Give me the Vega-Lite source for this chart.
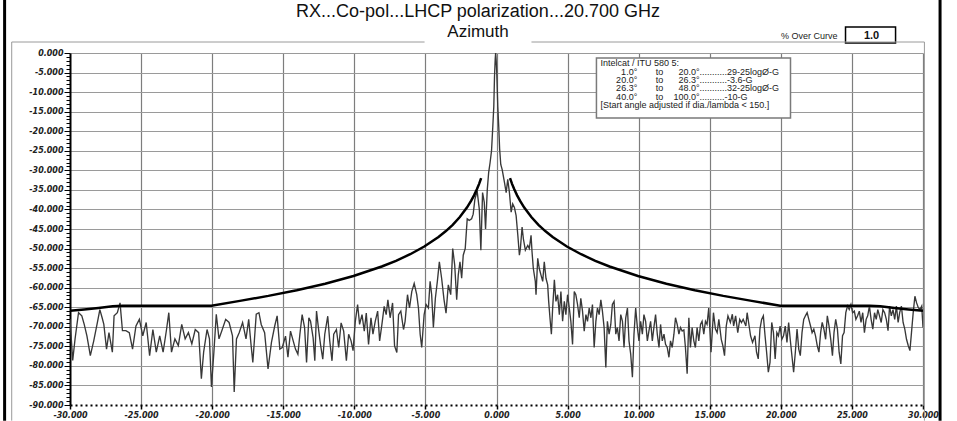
{
"$schema": "https://vega.github.io/schema/vega-lite/v6.json",
"width": 853, "height": 352,
"autosize": {"type": "none"},
"padding": {"left": 70, "top": 53, "right": 34, "bottom": 16},
"background": "white",
"config": {"view": {"stroke": null}, "font": "Liberation Sans"},
"datasets": {
"pattern": [
{"az":-30.0,"gain":-68.0},{"az":-29.81,"gain":-78.6},{"az":-29.64,"gain":-73.0},{"az":-29.4,"gain":-66.4},{"az":-29.17,"gain":-67.2},{"az":-29.0,"gain":-69.4},{"az":-28.81,"gain":-72.3},{"az":-28.57,"gain":-77.4},{"az":-28.33,"gain":-73.6},{"az":-28.1,"gain":-69.4},{"az":-27.9,"gain":-65.6},{"az":-27.74,"gain":-67.7},{"az":-27.62,"gain":-69.4},{"az":-27.43,"gain":-75.7},{"az":-27.26,"gain":-71.5},{"az":-27.02,"gain":-76.5},{"az":-26.9,"gain":-67.2},{"az":-26.67,"gain":-66.4},{"az":-26.48,"gain":-63.9},{"az":-26.31,"gain":-71.0},{"az":-26.07,"gain":-71.0},{"az":-25.83,"gain":-71.5},{"az":-25.6,"gain":-75.7},{"az":-25.36,"gain":-69.8},{"az":-25.12,"gain":-68.1},{"az":-24.88,"gain":-72.3},{"az":-24.64,"gain":-68.9},{"az":-24.4,"gain":-77.4},{"az":-24.17,"gain":-70.7},{"az":-23.93,"gain":-76.5},{"az":-23.69,"gain":-72.3},{"az":-23.45,"gain":-76.5},{"az":-23.21,"gain":-70.7},{"az":-23.05,"gain":-66.4},{"az":-22.86,"gain":-76.5},{"az":-22.62,"gain":-73.1},{"az":-22.38,"gain":-74.8},{"az":-22.14,"gain":-69.4},{"az":-21.9,"gain":-73.1},{"az":-21.67,"gain":-71.5},{"az":-21.43,"gain":-74.4},{"az":-21.19,"gain":-70.7},{"az":-20.95,"gain":-71.5},{"az":-20.76,"gain":-83.3},{"az":-20.6,"gain":-76.5},{"az":-20.36,"gain":-70.7},{"az":-20.19,"gain":-73.1},{"az":-20.05,"gain":-85.4},{"az":-19.88,"gain":-76.5},{"az":-19.71,"gain":-66.8},{"az":-19.52,"gain":-73.1},{"az":-19.29,"gain":-70.7},{"az":-19.05,"gain":-68.1},{"az":-18.81,"gain":-68.9},{"az":-18.57,"gain":-72.3},{"az":-18.45,"gain":-86.7},{"az":-18.29,"gain":-73.1},{"az":-18.1,"gain":-71.5},{"az":-17.86,"gain":-68.9},{"az":-17.62,"gain":-73.1},{"az":-17.43,"gain":-68.1},{"az":-17.26,"gain":-74.8},{"az":-17.14,"gain":-79.1},{"az":-16.9,"gain":-66.8},{"az":-16.71,"gain":-66.4},{"az":-16.55,"gain":-69.4},{"az":-16.31,"gain":-71.5},{"az":-16.07,"gain":-80.8},{"az":-15.83,"gain":-74.0},{"az":-15.6,"gain":-69.8},{"az":-15.43,"gain":-67.2},{"az":-15.24,"gain":-75.7},
{"az":-15.07,"gain":-75.3},{"az":-14.84,"gain":-72.4},{"az":-14.67,"gain":-77.8},{"az":-14.49,"gain":-71.1},{"az":-14.3,"gain":-73.6},{"az":-14.14,"gain":-75.7},{"az":-13.97,"gain":-77.0},{"az":-13.83,"gain":-71.9},{"az":-13.67,"gain":-66.9},{"az":-13.5,"gain":-70.2},{"az":-13.36,"gain":-79.1},{"az":-13.2,"gain":-67.7},{"az":-13.08,"gain":-68.6},{"az":-12.9,"gain":-72.8},{"az":-12.78,"gain":-78.7},{"az":-12.66,"gain":-66.0},{"az":-12.5,"gain":-71.1},{"az":-12.38,"gain":-74.5},{"az":-12.22,"gain":-78.3},{"az":-12.08,"gain":-71.9},{"az":-11.87,"gain":-67.3},{"az":-11.73,"gain":-73.6},{"az":-11.57,"gain":-78.7},{"az":-11.45,"gain":-71.9},{"az":-11.26,"gain":-70.7},{"az":-11.1,"gain":-75.3},{"az":-10.93,"gain":-69.0},{"az":-10.75,"gain":-71.1},{"az":-10.56,"gain":-78.7},{"az":-10.4,"gain":-71.9},{"az":-10.23,"gain":-73.6},{"az":-10.09,"gain":-76.1},{"az":-9.93,"gain":-68.6},{"az":-9.77,"gain":-64.3},{"az":-9.63,"gain":-69.4},{"az":-9.46,"gain":-66.9},{"az":-9.3,"gain":-71.1},{"az":-9.16,"gain":-66.5},{"az":-9.0,"gain":-74.5},{"az":-8.83,"gain":-67.7},{"az":-8.69,"gain":-71.9},{"az":-8.53,"gain":-68.6},{"az":-8.36,"gain":-66.0},{"az":-8.22,"gain":-73.6},{"az":-8.06,"gain":-69.4},{"az":-7.9,"gain":-64.8},{"az":-7.76,"gain":-66.9},{"az":-7.64,"gain":-63.1},{"az":-7.48,"gain":-67.7},{"az":-7.31,"gain":-63.9},{"az":-7.17,"gain":-74.9},{"az":-7.01,"gain":-76.6},{"az":-6.89,"gain":-66.9},{"az":-6.73,"gain":-66.0},{"az":-6.54,"gain":-70.7},{"az":-6.43,"gain":-68.6},{"az":-6.26,"gain":-61.8},{"az":-6.12,"gain":-65.2},{"az":-5.96,"gain":-61.0},{"az":-5.79,"gain":-58.9},{"az":-5.61,"gain":-61.8},{"az":-5.49,"gain":-65.2},{"az":-5.37,"gain":-71.9},{"az":-5.26,"gain":-75.3},{"az":-5.09,"gain":-66.9},{"az":-4.95,"gain":-64.3},{"az":-4.79,"gain":-65.2},{"az":-4.67,"gain":-58.4},{"az":-4.56,"gain":-61.8},{"az":-4.44,"gain":-70.2},{"az":-4.3,"gain":-62.7},{"az":-4.16,"gain":-58.4},{"az":-4.02,"gain":-53.4},{"az":-3.86,"gain":-57.6},{"az":-3.69,"gain":-63.1},{"az":-3.55,"gain":-66.5},{"az":-3.39,"gain":-59.3},{"az":-3.22,"gain":-61.8},{"az":-3.08,"gain":-50.0},{"az":-2.94,"gain":-54.2},{"az":-2.8,"gain":-63.1},{"az":-2.69,"gain":-56.8},{"az":-2.57,"gain":-53.4},{"az":-2.45,"gain":-57.6},{"az":-2.34,"gain":-51.7},{"az":-2.2,"gain":-50.0},{"az":-2.06,"gain":-42.4},{"az":-1.92,"gain":-42.8},{"az":-1.75,"gain":-42.4},{"az":-1.64,"gain":-41.2},{"az":-1.52,"gain":-37.4},{"az":-1.36,"gain":-35.3},{"az":-1.21,"gain":-39.9},{"az":-1.1,"gain":-50.4},{"az":-0.98,"gain":-35.7},{"az":-0.86,"gain":-38.2},{"az":-0.77,"gain":-45.0},{"az":-0.65,"gain":-35.0},{"az":-0.55,"gain":-30.5},{"az":-0.45,"gain":-28.0},{"az":-0.35,"gain":-25.0},{"az":-0.26,"gain":-18.8},{"az":-0.19,"gain":-13.7},{"az":-0.14,"gain":-6.0},{"az":-0.09,"gain":-1.5},{"az":-0.06,"gain":0.0},{"az":-0.02,"gain":-2.0},{"az":0.02,"gain":-5.2},{"az":0.09,"gain":-13.7},{"az":0.16,"gain":-19.0},{"az":0.22,"gain":-24.5},{"az":0.3,"gain":-28.5},
{"az":0.4,"gain":-29.8},{"az":0.56,"gain":-33.1},{"az":0.68,"gain":-35.7},{"az":0.79,"gain":-32.3},{"az":0.91,"gain":-35.7},{"az":1.03,"gain":-40.7},{"az":1.14,"gain":-38.6},{"az":1.26,"gain":-39.5},{"az":1.38,"gain":-41.6},{"az":1.5,"gain":-46.6},{"az":1.61,"gain":-51.7},{"az":1.68,"gain":-50.0},{"az":1.8,"gain":-44.5},{"az":1.89,"gain":-47.5},{"az":2.03,"gain":-50.4},{"az":2.2,"gain":-49.2},{"az":2.31,"gain":-50.0},{"az":2.43,"gain":-46.6},{"az":2.5,"gain":-50.9},{"az":2.59,"gain":-55.1},{"az":2.73,"gain":-58.4},{"az":2.78,"gain":-61.8},{"az":2.9,"gain":-52.5},{"az":3.01,"gain":-55.1},{"az":3.13,"gain":-56.8},{"az":3.25,"gain":-58.4},{"az":3.36,"gain":-53.4},{"az":3.48,"gain":-57.6},{"az":3.6,"gain":-59.3},{"az":3.67,"gain":-63.5},{"az":3.76,"gain":-67.7},{"az":3.86,"gain":-71.9},{"az":3.95,"gain":-65.2},{"az":4.07,"gain":-58.0},{"az":4.18,"gain":-63.5},{"az":4.3,"gain":-61.8},{"az":4.42,"gain":-66.9},{"az":4.53,"gain":-61.0},{"az":4.65,"gain":-68.6},{"az":4.77,"gain":-63.5},{"az":4.88,"gain":-66.9},{"az":5.0,"gain":-61.8},{"az":5.12,"gain":-65.2},{"az":5.23,"gain":-68.6},{"az":5.35,"gain":-74.5},{"az":5.47,"gain":-61.0},{"az":5.58,"gain":-61.8},{"az":5.7,"gain":-64.3},{"az":5.82,"gain":-67.7},{"az":5.93,"gain":-62.7},{"az":6.05,"gain":-66.0},{"az":6.17,"gain":-71.1},{"az":6.29,"gain":-66.9},{"az":6.4,"gain":-68.6},{"az":6.52,"gain":-65.2},{"az":6.64,"gain":-67.7},{"az":6.75,"gain":-64.3},{"az":6.87,"gain":-75.3},{"az":6.99,"gain":-68.6},{"az":7.1,"gain":-65.2},{"az":7.22,"gain":-66.9},{"az":7.34,"gain":-63.1},{"az":7.45,"gain":-66.0},{"az":7.57,"gain":-70.2},{"az":7.69,"gain":-80.4},{"az":7.8,"gain":-68.6},{"az":7.92,"gain":-71.9},{"az":8.04,"gain":-69.4},{"az":8.15,"gain":-64.3},{"az":8.27,"gain":-63.5},{"az":8.39,"gain":-71.9},{"az":8.5,"gain":-70.2},{"az":8.62,"gain":-73.6},{"az":8.74,"gain":-66.9},{"az":8.86,"gain":-68.6},{"az":8.97,"gain":-75.3},{"az":9.09,"gain":-67.7},{"az":9.21,"gain":-65.2},{"az":9.32,"gain":-73.6},{"az":9.44,"gain":-77.0},{"az":9.56,"gain":-82.9},{"az":9.67,"gain":-71.9},{"az":9.79,"gain":-65.2},{"az":9.91,"gain":-70.2},{"az":10.02,"gain":-73.6},{"az":10.14,"gain":-68.6},{"az":10.26,"gain":-71.9},{"az":10.37,"gain":-66.9},{"az":10.49,"gain":-68.6},{"az":10.61,"gain":-73.6},{"az":10.72,"gain":-71.1},{"az":10.84,"gain":-68.6},{"az":10.96,"gain":-73.6},{"az":11.07,"gain":-70.2},{"az":11.19,"gain":-66.9},{"az":11.31,"gain":-71.9},{"az":11.43,"gain":-75.3},{"az":11.54,"gain":-69.4},{"az":11.66,"gain":-73.6},{"az":11.78,"gain":-71.9},{"az":11.89,"gain":-74.5},{"az":12.01,"gain":-75.3},{"az":12.13,"gain":-77.8},{"az":12.24,"gain":-73.6},{"az":12.36,"gain":-75.3},{"az":12.48,"gain":-71.9},{"az":12.59,"gain":-67.7},{"az":12.71,"gain":-69.4},{"az":12.83,"gain":-71.9},{"az":12.94,"gain":-70.2},{"az":13.06,"gain":-71.1},{"az":13.18,"gain":-70.8},{"az":13.29,"gain":-75.3},{"az":13.41,"gain":-82.0},{"az":13.53,"gain":-67.7},{"az":13.64,"gain":-75.3},{"az":13.76,"gain":-70.2},{"az":13.88,"gain":-73.6},{"az":13.99,"gain":-75.3},{"az":14.11,"gain":-70.2},{"az":14.23,"gain":-73.6},{"az":14.35,"gain":-69.4},{"az":14.46,"gain":-68.6},{"az":14.58,"gain":-71.9},{"az":14.7,"gain":-68.6},{"az":14.81,"gain":-69.4},{"az":14.93,"gain":-65.2},
{"az":15.09,"gain":-76.5},{"az":15.26,"gain":-66.4},{"az":15.4,"gain":-70.6},{"az":15.52,"gain":-71.5},{"az":15.64,"gain":-68.1},{"az":15.81,"gain":-73.2},{"az":15.92,"gain":-74.8},{"az":16.04,"gain":-77.4},{"az":16.16,"gain":-69.8},{"az":16.28,"gain":-67.2},{"az":16.45,"gain":-68.9},{"az":16.59,"gain":-66.8},{"az":16.68,"gain":-69.8},{"az":16.82,"gain":-67.2},{"az":16.97,"gain":-71.5},{"az":17.11,"gain":-68.1},{"az":17.23,"gain":-68.9},{"az":17.35,"gain":-68.1},{"az":17.54,"gain":-69.8},{"az":17.63,"gain":-66.4},{"az":17.77,"gain":-69.8},{"az":17.87,"gain":-72.3},{"az":18.01,"gain":-74.0},{"az":18.18,"gain":-72.3},{"az":18.29,"gain":-76.5},{"az":18.41,"gain":-78.2},{"az":18.53,"gain":-70.6},{"az":18.65,"gain":-68.1},{"az":18.77,"gain":-67.2},{"az":18.89,"gain":-72.3},{"az":19.0,"gain":-76.5},{"az":19.12,"gain":-81.6},{"az":19.24,"gain":-79.1},{"az":19.36,"gain":-68.9},{"az":19.48,"gain":-71.5},{"az":19.6,"gain":-78.2},{"az":19.72,"gain":-71.5},{"az":19.83,"gain":-72.3},{"az":19.95,"gain":-69.8},{"az":20.07,"gain":-73.2},{"az":20.19,"gain":-72.3},{"az":20.31,"gain":-69.8},{"az":20.43,"gain":-74.0},{"az":20.55,"gain":-68.9},{"az":20.66,"gain":-73.2},{"az":20.78,"gain":-77.4},{"az":20.9,"gain":-81.6},{"az":21.02,"gain":-76.5},{"az":21.14,"gain":-70.6},{"az":21.26,"gain":-75.7},{"az":21.37,"gain":-77.4},{"az":21.49,"gain":-71.5},{"az":21.61,"gain":-68.1},{"az":21.73,"gain":-67.2},{"az":21.85,"gain":-66.4},{"az":21.97,"gain":-68.1},{"az":22.09,"gain":-69.8},{"az":22.2,"gain":-71.5},{"az":22.32,"gain":-70.6},{"az":22.44,"gain":-72.3},{"az":22.56,"gain":-74.8},{"az":22.68,"gain":-76.5},{"az":22.8,"gain":-71.5},{"az":22.91,"gain":-68.9},{"az":23.03,"gain":-70.6},{"az":23.15,"gain":-73.2},{"az":23.27,"gain":-67.2},{"az":23.39,"gain":-69.8},{"az":23.51,"gain":-73.2},{"az":23.63,"gain":-77.4},{"az":23.74,"gain":-71.5},{"az":23.86,"gain":-68.1},{"az":23.98,"gain":-70.6},{"az":24.1,"gain":-76.5},{"az":24.22,"gain":-79.5},{"az":24.34,"gain":-72.3},{"az":24.45,"gain":-71.5},{"az":24.57,"gain":-66.4},{"az":24.69,"gain":-64.7},{"az":24.81,"gain":-65.6},{"az":24.93,"gain":-64.3},{"az":25.05,"gain":-66.4},{"az":25.17,"gain":-66.0},{"az":25.28,"gain":-68.1},{"az":25.4,"gain":-67.2},{"az":25.52,"gain":-66.0},{"az":25.64,"gain":-68.9},{"az":25.76,"gain":-66.4},{"az":25.88,"gain":-71.5},{"az":26.0,"gain":-68.1},{"az":26.11,"gain":-67.2},{"az":26.23,"gain":-64.7},{"az":26.35,"gain":-68.1},{"az":26.47,"gain":-70.6},{"az":26.59,"gain":-66.4},{"az":26.71,"gain":-68.1},{"az":26.82,"gain":-65.6},{"az":26.94,"gain":-67.2},{"az":27.06,"gain":-68.9},{"az":27.18,"gain":-65.6},{"az":27.3,"gain":-66.4},{"az":27.42,"gain":-68.1},{"az":27.54,"gain":-71.0},{"az":27.65,"gain":-64.7},{"az":27.77,"gain":-67.2},{"az":27.89,"gain":-65.6},{"az":28.01,"gain":-68.1},{"az":28.13,"gain":-64.7},{"az":28.25,"gain":-68.9},{"az":28.36,"gain":-66.4},{"az":28.48,"gain":-64.7},{"az":28.6,"gain":-68.9},{"az":28.72,"gain":-70.6},{"az":28.84,"gain":-73.2},{"az":28.96,"gain":-74.8},{"az":29.08,"gain":-76.1},{"az":29.19,"gain":-71.5},{"az":29.31,"gain":-66.4},{"az":29.43,"gain":-62.2},{"az":29.55,"gain":-63.9},{"az":29.67,"gain":-65.1},{"az":29.79,"gain":-65.6},{"az":29.91,"gain":-64.7},{"az":30.0,"gain":-70.2}
],
"envelope": [
{"side":"L","az":-30.0,"gain":-65.93},{"side":"L","az":-29.0,"gain":-65.56},{"side":"L","az":-28.0,"gain":-65.18},{"side":"L","az":-27.0,"gain":-64.78},{"side":"L","az":-26.3,"gain":-64.6},{"side":"L","az":-20.05,"gain":-64.6},{"side":"L","az":-18.05,"gain":-63.38},{"side":"L","az":-16.05,"gain":-62.1},{"side":"L","az":-14.05,"gain":-60.65},{"side":"L","az":-12.05,"gain":-58.98},{"side":"L","az":-10.06,"gain":-57.0},{"side":"L","az":-8.07,"gain":-54.58},{"side":"L","az":-7.07,"gain":-53.13},{"side":"L","az":-6.07,"gain":-51.45},{"side":"L","az":-5.08,"gain":-49.47},{"side":"L","az":-4.08,"gain":-47.05},{"side":"L","az":-3.58,"gain":-45.6},{"side":"L","az":-3.08,"gain":-43.93},{"side":"L","az":-2.58,"gain":-41.95},{"side":"L","az":-2.08,"gain":-39.53},{"side":"L","az":-1.78,"gain":-37.76},{"side":"L","az":-1.58,"gain":-36.4},{"side":"L","az":-1.38,"gain":-34.85},{"side":"L","az":-1.23,"gain":-33.52},{"side":"L","az":-1.08,"gain":-32.0},
{"side":"R","az":0.95,"gain":-32.0},{"side":"R","az":1.1,"gain":-33.52},{"side":"R","az":1.25,"gain":-34.85},{"side":"R","az":1.45,"gain":-36.4},{"side":"R","az":1.65,"gain":-37.76},{"side":"R","az":1.95,"gain":-39.53},{"side":"R","az":2.45,"gain":-41.95},{"side":"R","az":2.95,"gain":-43.93},{"side":"R","az":3.45,"gain":-45.6},{"side":"R","az":3.95,"gain":-47.05},{"side":"R","az":4.95,"gain":-49.47},{"side":"R","az":5.95,"gain":-51.45},{"side":"R","az":6.95,"gain":-53.13},{"side":"R","az":7.95,"gain":-54.58},{"side":"R","az":9.95,"gain":-57.0},{"side":"R","az":11.95,"gain":-58.98},{"side":"R","az":13.95,"gain":-60.65},{"side":"R","az":15.95,"gain":-62.1},{"side":"R","az":17.95,"gain":-63.38},{"side":"R","az":19.95,"gain":-64.6},{"side":"R","az":26.25,"gain":-64.6},{"side":"R","az":27.0,"gain":-64.78},{"side":"R","az":28.0,"gain":-65.18},{"side":"R","az":29.0,"gain":-65.56},{"side":"R","az":30.0,"gain":-65.93}
]
},
"layer": [
{"data": {"name": "pattern"},
 "mark": {"type": "line", "color": "#383838", "strokeWidth": 1.35, "clip": true},
 "encoding": {
  "x": {"field": "az", "type": "quantitative", "scale": {"domain": [-30, 30], "nice": false, "zero": false},
   "axis": {"title": null, "values": [-30,-25,-20,-15,-10,-5,0,5,10,15,20,25,30], "tickCount": 100,
    "labelExpr": "replace(format(datum.value, '.3f'), '\u2212', '-')",
    "labelFont": "DejaVu Sans", "labelFontSize": 8, "labelFontStyle": "italic", "labelFontWeight": "bold", "labelColor": "#222", "labelPadding": 2, "labelOverlap": false, "labelBound": false, "labelFlush": false,
    "domain": true, "domainColor": "black", "domainWidth": 2, "domainDash": [2, 3],
    "ticks": true, "tickColor": "black", "tickWidth": 1.5, "tickSize": 4,
    "grid": true, "gridColor": "#7d7d7d", "gridWidth": 1.2,
    "gridOpacity": {"condition": {"test": "datum.value > -30", "value": 1}, "value": 0}}},
  "y": {"field": "gain", "type": "quantitative", "scale": {"domain": [-90, 0], "nice": false, "zero": false},
   "axis": {"title": null, "tickCount": 200, "values": [-90,-89,-88,-87,-86,-85,-84,-83,-82,-81,-80,-79,-78,-77,-76,-75,-74,-73,-72,-71,-70,-69,-68,-67,-66,-65,-64,-63,-62,-61,-60,-59,-58,-57,-56,-55,-54,-53,-52,-51,-50,-49,-48,-47,-46,-45,-44,-43,-42,-41,-40,-39,-38,-37,-36,-35,-34,-33,-32,-31,-30,-29,-28,-27,-26,-25,-24,-23,-22,-21,-20,-19,-18,-17,-16,-15,-14,-13,-12,-11,-10,-9,-8,-7,-6,-5,-4,-3,-2,-1,0],
    "labelExpr": "datum.value % 5 === 0 ? replace(format(datum.value, '.3f'), '\u2212', '-') : ''",
    "labelFont": "DejaVu Sans", "labelFontSize": 8, "labelFontStyle": "italic", "labelFontWeight": "bold", "labelColor": "#222", "labelPadding": 1, "labelOverlap": false, "labelBound": false, "labelFlush": false,
    "domain": true, "domainColor": "black", "domainWidth": 2,
    "ticks": true, "tickColor": "black", "tickWidth": 1,
    "tickSize": {"condition": {"test": "datum.value % 5 === 0", "value": 6}, "value": 4},
    "grid": true, "gridColor": "#9a9a9a", "gridWidth": 1,
    "gridOpacity": {"condition": {"test": "datum.value % 5 === 0 && datum.value > -90", "value": 1}, "value": 0}}}
 }},
{"data": {"name": "envelope"},
 "mark": {"type": "line", "color": "black", "strokeWidth": 2.5},
 "encoding": {"x": {"field": "az", "type": "quantitative", "title": null}, "y": {"field": "gain", "type": "quantitative", "title": null}, "detail": {"field": "side"}}},
{"data": {"values": [{}]},
 "mark": {"type": "rect", "fill": "white", "stroke": "#7a7a7a", "strokeWidth": 1.5},
 "encoding": {"x": {"datum": 7.03, "type": "quantitative"}, "x2": {"datum": 20.68}, "y": {"datum": -1.28, "type": "quantitative"}, "y2": {"datum": -16.6}}},
{"data": {"values": [{}]},
 "mark": {"type": "text", "align": "left", "baseline": "middle", "fontSize": 9, "color": "#222", "text": "Intelcat / ITU 580 5:"},
 "encoding": {"x": {"datum": 7.31, "type": "quantitative"}, "y": {"datum": -2.6, "type": "quantitative"}}},
{"data": {"values": [{}]},
 "mark": {"type": "text", "align": "right", "baseline": "top", "fontSize": 9, "lineHeight": 8.4, "color": "#222", "text": ["1.0°", "20.0°", "26.3°", "40.0°"]},
 "encoding": {"x": {"datum": 9.9, "type": "quantitative"}, "y": {"datum": -3.75, "type": "quantitative"}}},
{"data": {"values": [{}]},
 "mark": {"type": "text", "align": "center", "baseline": "top", "fontSize": 9, "lineHeight": 8.4, "color": "#222", "text": ["to", "to", "to", "to"]},
 "encoding": {"x": {"datum": 11.46, "type": "quantitative"}, "y": {"datum": -3.75, "type": "quantitative"}}},
{"data": {"values": [{}]},
 "mark": {"type": "text", "align": "right", "baseline": "top", "fontSize": 9, "lineHeight": 8.4, "color": "#222", "text": ["20.0°", "26.3°", "48.0°", "100.0°"]},
 "encoding": {"x": {"datum": 14.28, "type": "quantitative"}, "y": {"datum": -3.75, "type": "quantitative"}}},
{"data": {"values": [{}]},
 "mark": {"type": "text", "align": "left", "baseline": "top", "fontSize": 9, "lineHeight": 8.4, "color": "#222", "text": ["...........29-25logØ-G", "...........-3.6-G", "...........32-25logØ-G", "..........-10-G"]},
 "encoding": {"x": {"datum": 14.28, "type": "quantitative"}, "y": {"datum": -3.75, "type": "quantitative"}}},
{"data": {"values": [{}]},
 "mark": {"type": "text", "align": "left", "baseline": "middle", "fontSize": 9, "color": "#222", "text": "[Start angle adjusted if dia./lambda < 150.]"},
 "encoding": {"x": {"datum": 7.31, "type": "quantitative"}, "y": {"datum": -13.3, "type": "quantitative"}}},
{"data": {"values": [{}]},
 "mark": {"type": "text", "align": "center", "baseline": "middle", "fontSize": 18, "color": "#111", "text": "RX...Co-pol...LHCP polarization...20.700 GHz"},
 "encoding": {"x": {"datum": -1.3, "type": "quantitative"}, "y": {"datum": 10.5, "type": "quantitative"}}},
{"data": {"values": [{}]},
 "mark": {"type": "text", "align": "center", "baseline": "middle", "fontSize": 17, "color": "#111", "text": "Azimuth"},
 "encoding": {"x": {"datum": -1.3, "type": "quantitative"}, "y": {"datum": 5.3, "type": "quantitative"}}},
{"data": {"values": [{}]},
 "mark": {"type": "text", "align": "right", "baseline": "middle", "fontSize": 9, "color": "#222", "text": "% Over Curve"},
 "encoding": {"x": {"datum": 23.99, "type": "quantitative"}, "y": {"datum": 4.34, "type": "quantitative"}}},
{"data": {"values": [{}]},
 "mark": {"type": "rect", "fill": "white", "stroke": "black", "strokeWidth": 1.5},
 "encoding": {"x": {"datum": 24.55, "type": "quantitative"}, "x2": {"datum": 28.07}, "y": {"datum": 6.64, "type": "quantitative"}, "y2": {"datum": 2.55}}},
{"data": {"values": [{}]},
 "mark": {"type": "text", "align": "center", "baseline": "middle", "fontSize": 11, "fontWeight": "bold", "color": "#111", "text": "1.0"},
 "encoding": {"x": {"datum": 26.38, "type": "quantitative"}, "y": {"datum": 4.4, "type": "quantitative"}}},
{"data": {"values": [{}]},
 "mark": {"type": "rule", "color": "#9a9a9a", "strokeWidth": 1},
 "encoding": {"x": {"datum": -34.1, "type": "quantitative"}, "x2": {"datum": -5.06}, "y": {"datum": 2.81, "type": "quantitative"}}},
{"data": {"values": [{}]},
 "mark": {"type": "rule", "color": "#9a9a9a", "strokeWidth": 1},
 "encoding": {"x": {"datum": 2.46, "type": "quantitative"}, "x2": {"datum": 30.1}, "y": {"datum": 2.81, "type": "quantitative"}}},
{"data": {"values": [{}]},
 "mark": {"type": "rule", "color": "#9a9a9a", "strokeWidth": 1},
 "encoding": {"x": {"datum": -34.1, "type": "quantitative"}, "y": {"datum": 2.81, "type": "quantitative"}, "y2": {"datum": -94}}},
{"data": {"values": [{}]},
 "mark": {"type": "rule", "color": "#9a9a9a", "strokeWidth": 1},
 "encoding": {"x": {"datum": 30.1, "type": "quantitative"}, "y": {"datum": 2.81, "type": "quantitative"}, "y2": {"datum": -94}}},
{"data": {"values": [{}]},
 "mark": {"type": "rule", "color": "black", "strokeWidth": 3},
 "encoding": {"x": {"datum": -34.6, "type": "quantitative"}, "y": {"datum": 13.6, "type": "quantitative"}, "y2": {"datum": -94}}},
{"data": {"values": [{}]},
 "mark": {"type": "rule", "color": "black", "strokeWidth": 3},
 "encoding": {"x": {"datum": 31.2, "type": "quantitative"}, "y": {"datum": 13.6, "type": "quantitative"}, "y2": {"datum": -94}}}
]
}
